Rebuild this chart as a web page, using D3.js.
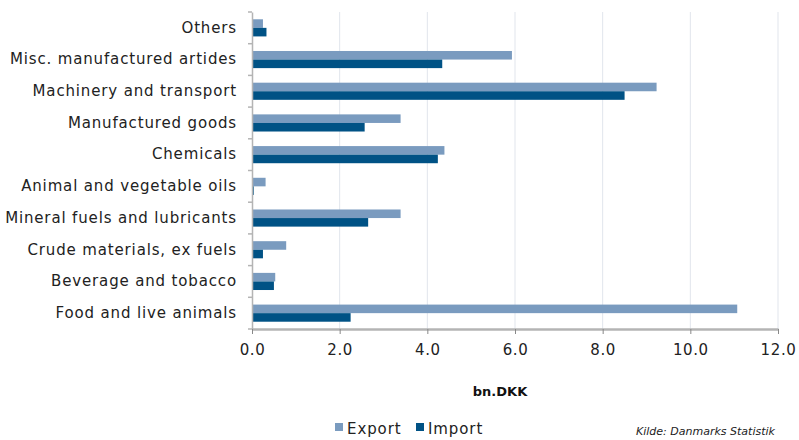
<!DOCTYPE html>
<html>
<head>
<meta charset="utf-8">
<script src="https://cdn.jsdelivr.net/npm/d3@7"></script>
<style>
  body { margin: 0; background: #fff; }
  svg, svg text { font-family: "DejaVu Sans", Verdana, sans-serif; }
</style>
</head>
<body>
<div id="chart"></div>
<script>
// Categories top to bottom
const categories = [
  "Others",
  "Misc. manufactured artides",
  "Machinery and transport",
  "Manufactured goods",
  "Chemicals",
  "Animal and vegetable oils",
  "Mineral fuels and lubricants",
  "Crude materials, ex fuels",
  "Beverage and tobacco",
  "Food and live animals"
];
const exportValues = [0.25, 5.93, 9.23, 3.39, 4.39, 0.31, 3.39, 0.78, 0.53, 11.07];
const importValues = [0.33, 4.34, 8.50, 2.57, 4.24, 0.04, 2.65, 0.25, 0.50, 2.25];
const xTicks = [0, 2, 4, 6, 8, 10, 12];
const seriesNames = ["Export", "Import"];
const seriesColors = ["#7a9bbf", "#005285"];

const width = 799, height = 440;
const margin = { top: 12, right: 21, bottom: 111, left: 252 };
const fontFam = "'DejaVu Sans', Verdana, sans-serif";

const svg = d3.select("#chart").append("svg")
  .attr("width", width)
  .attr("height", height);

const x = d3.scaleLinear().domain([0, 12]).range([margin.left, width - margin.right]);
const y = d3.scaleBand().domain(categories).range([margin.top, height - margin.bottom]);
const sub = d3.scaleBand().domain(seriesNames).range([0, y.bandwidth()]).paddingOuter(0.85);

// gridlines
svg.append("g").selectAll("line")
  .data(xTicks.slice(1))
  .enter().append("line")
  .attr("x1", d => x(d)).attr("x2", d => x(d))
  .attr("y1", margin.top).attr("y2", height - margin.bottom)
  .attr("stroke", "#e1e5ec").attr("stroke-width", 1);

// bars
const rows = categories.map((c, i) => ({ c, vals: [exportValues[i], importValues[i]] }));
const grp = svg.append("g").selectAll("g")
  .data(rows).enter().append("g")
  .attr("transform", d => `translate(0,${y(d.c)})`);
grp.selectAll("rect")
  .data(d => d.vals.map((v, k) => ({ v, s: seriesNames[k], k })))
  .enter().append("rect")
  .attr("x", x(0))
  .attr("y", d => sub(d.s))
  .attr("width", d => x(d.v) - x(0))
  .attr("height", sub.bandwidth())
  .attr("fill", d => seriesColors[d.k]);

// y axis
const yAxis = svg.append("g")
  .attr("transform", `translate(${x(0)},0)`)
  .call(d3.axisLeft(y).tickSize(0).tickPadding(15))
  .attr("font-family", fontFam);
yAxis.select(".domain").attr("stroke", "#b4b4b4").attr("stroke-width", 1.5);
yAxis.selectAll("text").attr("font-size", 15).attr("letter-spacing", 0.85).attr("fill", "#222");
// category separator ticks
yAxis.selectAll(".sep")
  .data(categories.concat([null]))
  .enter().append("line")
  .attr("class", "sep")
  .attr("x1", -4).attr("x2", 0)
  .attr("y1", (d, i) => margin.top + i * y.step())
  .attr("y2", (d, i) => margin.top + i * y.step())
  .attr("stroke", "#b4b4b4").attr("stroke-width", 1.5);

// x axis
const xAxis = svg.append("g")
  .attr("transform", `translate(0,${height - margin.bottom})`)
  .call(d3.axisBottom(x).tickValues(xTicks).tickFormat(d3.format(".1f")).tickSize(5).tickSizeOuter(0).tickPadding(10))
  .attr("font-family", fontFam);
xAxis.select(".domain").attr("stroke", "#b4b4b4").attr("stroke-width", 2.5);
xAxis.selectAll(".tick line").attr("stroke", "#888");
xAxis.selectAll("text").attr("font-size", 15).attr("letter-spacing", 0.6).attr("fill", "#222");

// axis title
svg.append("text")
  .attr("x", 500).attr("y", 396)
  .attr("text-anchor", "middle")
  .attr("font-size", 13).attr("font-weight", "bold").attr("fill", "#111")
  .text("bn.DKK");

// legend
const legend = svg.append("g").attr("transform", "translate(335,434)");
const legendX = [0, 81];
seriesNames.forEach((s, i) => {
  legend.append("rect")
    .attr("x", legendX[i]).attr("y", -11)
    .attr("width", 8).attr("height", 8)
    .attr("fill", seriesColors[i]);
  legend.append("text")
    .attr("x", legendX[i] + 12).attr("y", 0)
    .attr("font-size", 15).attr("letter-spacing", 0.9).attr("fill", "#222")
    .text(s);
});

// source
svg.append("text")
  .attr("x", 636).attr("y", 435)
  .attr("font-size", 11).attr("font-style", "italic").attr("fill", "#222")
  .text("Kilde: Danmarks Statistik");
</script>
</body>
</html>
